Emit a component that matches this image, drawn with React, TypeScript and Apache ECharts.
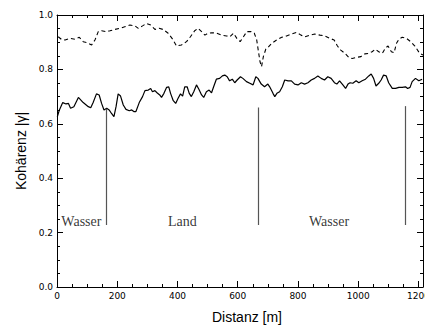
import React, { useEffect, useRef } from "react";
import * as echarts from "echarts";

const distanceSolid = [1, 8, 19, 30, 38, 45, 56, 71, 87, 104, 112, 120, 131, 140, 148, 156, 165, 173, 181, 189, 196, 203, 211, 220, 229, 240, 248, 255, 262, 273, 284, 292, 303, 311, 317, 325, 332, 341, 347, 355, 364, 371, 377, 386, 394, 402, 410, 417, 424, 432, 439, 446, 454, 463, 471, 480, 487, 496, 505, 513, 520, 529, 540, 549, 557, 565, 573, 582, 590, 598, 609, 617, 629, 640, 651, 660, 667, 678, 689, 700, 706, 717, 723, 730, 739, 748, 756, 767, 778, 789, 800, 811, 822, 833, 844, 855, 866, 877, 888, 899, 910, 921, 929, 938, 949, 958, 966, 973, 982, 993, 1002, 1013, 1024, 1035, 1043, 1051, 1059, 1068, 1076, 1084, 1093, 1101, 1113, 1124, 1135, 1146, 1157, 1164, 1172, 1179, 1190, 1201, 1212];
const coherenceSolid = [0.626, 0.651, 0.678, 0.673, 0.675, 0.657, 0.663, 0.697, 0.678, 0.663, 0.659, 0.678, 0.71, 0.706, 0.675, 0.651, 0.657, 0.651, 0.638, 0.626, 0.663, 0.71, 0.702, 0.669, 0.653, 0.648, 0.651, 0.645, 0.645, 0.678, 0.7, 0.722, 0.724, 0.73, 0.718, 0.722, 0.714, 0.706, 0.697, 0.712, 0.734, 0.736, 0.712, 0.685, 0.675, 0.694, 0.71, 0.702, 0.736, 0.736, 0.712, 0.7, 0.718, 0.743, 0.727, 0.706, 0.697, 0.718, 0.724, 0.714, 0.736, 0.764, 0.767, 0.776, 0.779, 0.773, 0.758, 0.764, 0.751, 0.761, 0.773, 0.767, 0.755, 0.749, 0.743, 0.773, 0.767, 0.746, 0.736, 0.746, 0.736, 0.712, 0.7, 0.712, 0.718, 0.736, 0.761, 0.758, 0.758, 0.746, 0.743, 0.751, 0.746, 0.751, 0.761, 0.767, 0.776, 0.767, 0.761, 0.773, 0.767, 0.751, 0.746, 0.758, 0.743, 0.73, 0.746, 0.751, 0.749, 0.758, 0.751, 0.758, 0.764, 0.776, 0.783, 0.767, 0.739, 0.749, 0.761, 0.779, 0.776, 0.751, 0.73, 0.73, 0.734, 0.734, 0.736, 0.73, 0.734, 0.755, 0.767, 0.758, 0.764];

const distanceDashed = [4, 15, 27, 43, 60, 74, 87, 100, 115, 126, 137, 148, 162, 176, 192, 209, 225, 242, 259, 270, 284, 297, 311, 325, 339, 352, 369, 384, 397, 413, 430, 443, 457, 468, 480, 491, 502, 514, 530, 547, 563, 574, 586, 597, 608, 619, 630, 644, 655, 663, 668, 674, 679, 685, 693, 702, 713, 729, 746, 762, 779, 795, 810, 823, 840, 856, 873, 889, 906, 920, 931, 942, 956, 969, 980, 994, 1009, 1022, 1035, 1046, 1057, 1068, 1080, 1090, 1099, 1110, 1119, 1127, 1135, 1146, 1160, 1174, 1188, 1204, 1215];
const coherenceDashed = [0.92, 0.91, 0.908, 0.914, 0.911, 0.918, 0.902, 0.898, 0.89, 0.908, 0.939, 0.942, 0.939, 0.942, 0.947, 0.951, 0.957, 0.963, 0.96, 0.951, 0.96, 0.969, 0.963, 0.947, 0.951, 0.947, 0.933, 0.911, 0.886, 0.89, 0.902, 0.92, 0.942, 0.951, 0.939, 0.926, 0.933, 0.935, 0.933, 0.926, 0.923, 0.92, 0.933, 0.914, 0.902, 0.92, 0.939, 0.939, 0.933, 0.908, 0.871, 0.828, 0.81, 0.847, 0.874, 0.883, 0.896, 0.908, 0.918, 0.923, 0.93, 0.936, 0.926, 0.92, 0.926, 0.93, 0.926, 0.923, 0.914, 0.908, 0.886, 0.871, 0.859, 0.844, 0.84, 0.844, 0.847, 0.857, 0.859, 0.865, 0.874, 0.865, 0.859, 0.878, 0.886, 0.865, 0.861, 0.896, 0.911, 0.918, 0.914, 0.902, 0.886, 0.859, 0.853];

const boundaryDistances = [164, 668, 1157];
const boundaryBottom = [0.228, 0.228, 0.228];
const boundaryTop = [0.655, 0.66, 0.665];

const regionLabels = ["Wasser", "Land", "Wasser"];
const regionDistances = [81, 416, 903];
const regionLevel = [0.241, 0.241, 0.241];

const xTicks = [0, 200, 400, 600, 800, 1000, 1200];

const X_MAX = 1215;

export default function App() {
  const ref = useRef<HTMLDivElement>(null);
  useEffect(() => {
    if (!ref.current) return;
    const chart = echarts.init(ref.current, null, { renderer: "svg" });
    const sans = "Liberation Sans";
    const tickFont = "DejaVu Sans";
    const axisCommon = {
      axisLine: { show: true, onZero: false, lineStyle: { color: "#000", width: 1 } },
      axisTick: { show: true, inside: true, length: 6, lineStyle: { color: "#000", width: 1 } },
      minorTick: { show: true, splitNumber: 4, length: 3, lineStyle: { color: "#000", width: 1 } },
      splitLine: { show: false },
    };
    const solid = distanceSolid.map((d, i) => [d, coherenceSolid[i]]);
    const dashed = distanceDashed.map((d, i) => [d, coherenceDashed[i]]);
    const boundaries = boundaryDistances.map((d, i) => [
      { coord: [d, boundaryBottom[i]] },
      { coord: [d, boundaryTop[i]] },
    ]);
    const labels = regionLabels.map((name, i) => ({ name, value: [regionDistances[i], regionLevel[i]] }));
    chart.setOption({
      animation: false,
      grid: { left: 57, right: 2, top: 15, bottom: 40, containLabel: false, outerBoundsMode: "none" },
      xAxis: [
        {
          type: "value",
          min: 0,
          max: X_MAX,
          interval: 200,
          position: "bottom",
          name: "Distanz [m]",
          nameLocation: "middle",
          nameGap: 23,
          nameTextStyle: { fontFamily: sans, fontSize: 14, color: "#000", padding: [0, 0, 0, 14] },
          axisLabel: {
            show: true,
            fontFamily: tickFont,
            fontSize: 9,
            color: "#000",
            margin: 4,
            customValues: xTicks,
            hideOverlap: false,
            showMaxLabel: true,
            formatter: (v: number) => String(v),
          },
          ...axisCommon,
        },
        {
          type: "value",
          min: 0,
          max: X_MAX,
          interval: 200,
          position: "top",
          axisLabel: { show: false },
          ...axisCommon,
        },
      ],
      yAxis: [
        {
          type: "value",
          min: 0,
          max: 1,
          interval: 0.2,
          position: "left",
          name: "Kohärenz |γ|",
          nameLocation: "middle",
          nameGap: 27,
          nameTextStyle: { fontFamily: sans, fontSize: 14, color: "#000" },
          axisLabel: {
            show: true,
            fontFamily: tickFont,
            fontSize: 9,
            color: "#000",
            margin: 4,
            formatter: (v: number) => v.toFixed(1),
          },
          ...axisCommon,
        },
        {
          type: "value",
          min: 0,
          max: 1,
          interval: 0.2,
          position: "right",
          axisLabel: { show: false },
          ...axisCommon,
        },
      ],
      series: [
        {
          type: "line",
          data: solid,
          showSymbol: false,
          symbol: "none",
          lineStyle: { color: "#000", width: 1.2 },
          markLine: {
            silent: true,
            symbol: ["none", "none"],
            label: { show: false },
            lineStyle: { color: "#555", width: 1.2, type: "solid" },
            data: boundaries,
          },
        },
        {
          type: "line",
          data: dashed,
          showSymbol: false,
          symbol: "none",
          lineStyle: { color: "#000", width: 1.1, type: [4, 3] },
        },
        {
          type: "scatter",
          data: labels,
          symbolSize: 0,
          label: {
            show: true,
            position: "inside",
            formatter: (p: any) => p.name,
            fontFamily: "Liberation Serif",
            fontSize: 14,
            color: "#000",
          },
        },
      ],
    });
    return () => chart.dispose();
  }, []);
  return (
    <div
      ref={ref}
      style={{ position: "fixed", left: 0, top: 0, width: 425, height: 327, background: "#fff" }}
    />
  );
}
